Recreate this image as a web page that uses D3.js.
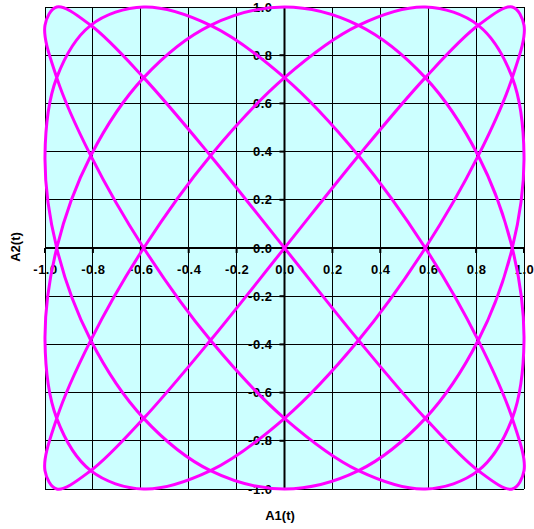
<!DOCTYPE html>
<html>
<head>
<meta charset="utf-8">
<script src="https://cdn.jsdelivr.net/npm/d3@7"></script>
<style>
  body { margin: 0; background: #fff; }
  text { font-family: "Liberation Sans", Arial, sans-serif; font-weight: bold; }
</style>
</head>
<body>
<svg id="chart" width="534" height="529"></svg>
<script>
// tick values / labels
var tickValues = [-1.0, -0.8, -0.6, -0.4, -0.2, 0.0, 0.2, 0.4, 0.6, 0.8, 1.0];
var tickLabels = ["-1.0", "-0.8", "-0.6", "-0.4", "-0.2", "0.0", "0.2", "0.4", "0.6", "0.8", "1.0"];

// points of the curve (A1 horizontal, A2 vertical)
var a1 = [0, 0.309, 0.588, 0.809, 0.951, 1, 0.951, 0.809, 0.588, 0.309,
          0, -0.309, -0.588, -0.809, -0.951, -1, -0.951, -0.809, -0.588, -0.309,
          0, 0.309, 0.588, 0.809, 0.951, 1, 0.951, 0.809, 0.588, 0.309,
          0, -0.309, -0.588, -0.809, -0.951, -1, -0.951, -0.809, -0.588, -0.309,
          0, 0.309, 0.588, 0.809, 0.951, 1, 0.951, 0.809, 0.588, 0.309,
          0, -0.309, -0.588, -0.809, -0.951, -1, -0.951, -0.809, -0.588, -0.309,
          0, 0.309, 0.588, 0.809, 0.951, 1, 0.951, 0.809, 0.588, 0.309,
          0, -0.309, -0.588, -0.809, -0.951, -1, -0.951, -0.809, -0.588, -0.309];
var a2 = [0.707, 0.924, 1, 0.924, 0.707, 0.383, 0, -0.383, -0.707, -0.924, -1, -0.924, -0.707, -0.383, 0, 0.383,
          0.707, 0.924, 1, 0.924, 0.707, 0.383, 0, -0.383, -0.707, -0.924, -1, -0.924, -0.707, -0.383, 0, 0.383,
          0.707, 0.924, 1, 0.924, 0.707, 0.383, 0, -0.383, -0.707, -0.924, -1, -0.924, -0.707, -0.383, 0, 0.383,
          0.707, 0.924, 1, 0.924, 0.707, 0.383, 0, -0.383, -0.707, -0.924, -1, -0.924, -0.707, -0.383, 0, 0.383,
          0.707, 0.924, 1, 0.924, 0.707, 0.383, 0, -0.383, -0.707, -0.924, -1, -0.924, -0.707, -0.383, 0, 0.383];

var svg = d3.select("#chart");

var x = d3.scaleLinear().domain([-1, 1]).range([45, 524]);
var y = d3.scaleLinear().domain([-1, 1]).range([489, 7]);

// background
svg.append("rect")
    .attr("x", x(-1)).attr("y", y(1))
    .attr("width", x(1) - x(-1)).attr("height", y(-1) - y(1))
    .attr("fill", "#ccffff");

// tick labels (drawn below the grid, like the original)
var xAxis = d3.axisBottom(x).tickValues(tickValues)
    .tickFormat(function(d, i){ return tickLabels[i]; })
    .tickSize(0).tickPadding(17);
var yAxis = d3.axisLeft(y).tickValues(tickValues)
    .tickFormat(function(d, i){ return tickLabels[i]; })
    .tickSize(0).tickPadding(12);

var gx = svg.append("g").attr("transform", "translate(0," + y(0) + ")").call(xAxis);
var gy = svg.append("g").attr("transform", "translate(" + x(0) + ",0)").call(yAxis);
gx.select(".domain").remove();
gy.select(".domain").remove();
svg.selectAll(".tick text")
    .attr("font-size", 13)
    .attr("fill", "#000")
    .attr("font-family", null)
    .attr("letter-spacing", "0.5px");

// grid
svg.append("g").selectAll("line.v")
    .data(tickValues).enter().append("line")
    .attr("x1", function(d){ return x(d); }).attr("x2", function(d){ return x(d); })
    .attr("y1", y(1)).attr("y2", y(-1))
    .attr("stroke", "#000").attr("stroke-width", 1).attr("shape-rendering", "crispEdges");
svg.append("g").selectAll("line.h")
    .data(tickValues).enter().append("line")
    .attr("y1", function(d){ return y(d); }).attr("y2", function(d){ return y(d); })
    .attr("x1", x(-1)).attr("x2", x(1))
    .attr("stroke", "#000").attr("stroke-width", 1).attr("shape-rendering", "crispEdges");

// small ticks
svg.append("g").selectAll("line")
    .data(tickValues).enter().append("line")
    .attr("x1", function(d){ return x(d); }).attr("x2", function(d){ return x(d); })
    .attr("y1", y(0)).attr("y2", y(0) + 5)
    .attr("stroke", "#000").attr("stroke-width", 2);
svg.append("g").selectAll("line")
    .data(tickValues).enter().append("line")
    .attr("y1", function(d){ return y(d); }).attr("y2", function(d){ return y(d); })
    .attr("x1", x(0) - 5).attr("x2", x(0))
    .attr("stroke", "#000").attr("stroke-width", 2);

// axes through origin
svg.append("line")
    .attr("x1", x(-1)).attr("x2", x(1)).attr("y1", y(0)).attr("y2", y(0))
    .attr("stroke", "#000").attr("stroke-width", 2);
svg.append("line")
    .attr("x1", x(0)).attr("x2", x(0)).attr("y1", y(1)).attr("y2", y(-1))
    .attr("stroke", "#000").attr("stroke-width", 2);

// curve
var pts = a1.map(function(d, i){ return [d, a2[i]]; });
var line = d3.line()
    .x(function(d){ return x(d[0]); })
    .y(function(d){ return y(d[1]); })
    .curve(d3.curveCatmullRomClosed.alpha(0.5));
svg.append("path")
    .datum(pts)
    .attr("d", line)
    .attr("fill", "none")
    .attr("stroke", "#ff00ff")
    .attr("stroke-width", 3)
    .attr("stroke-linejoin", "round");

// axis titles
svg.append("text")
    .attr("x", 280).attr("y", 520)
    .attr("text-anchor", "middle")
    .attr("font-size", 13)
    .text("A1(t)");
svg.append("text")
    .attr("transform", "translate(20,247) rotate(-90)")
    .attr("text-anchor", "middle")
    .attr("font-size", 13)
    .text("A2(t)");
</script>
</body>
</html>
